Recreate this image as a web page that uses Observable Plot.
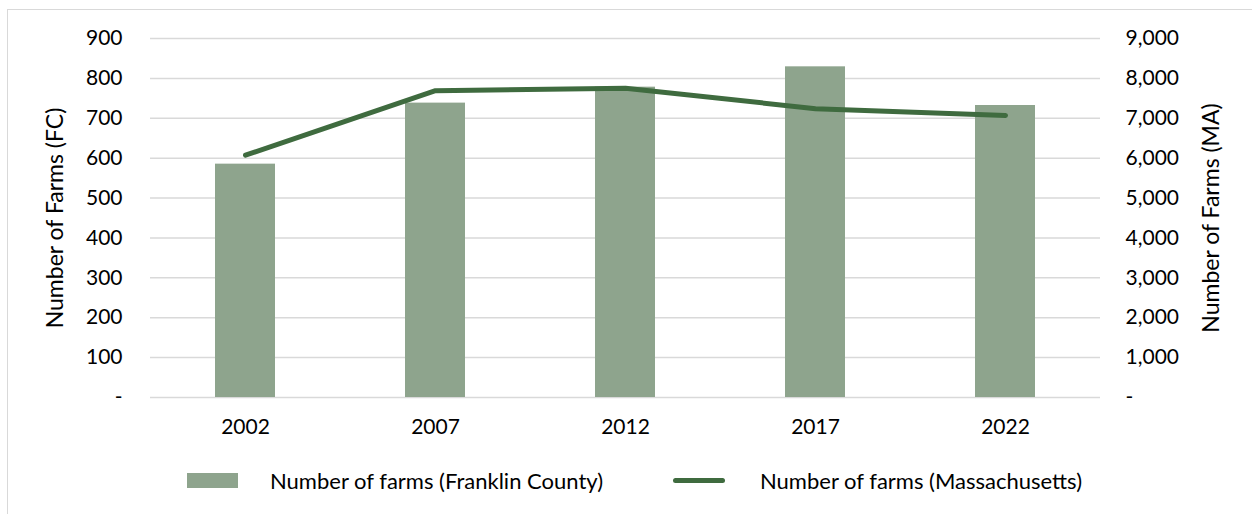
<!DOCTYPE html>
<html>
<head>
<meta charset="utf-8">
<script src="https://cdn.jsdelivr.net/npm/d3@7"></script>
<script src="https://cdn.jsdelivr.net/npm/@observablehq/plot@0.6"></script>
<style>
  html, body { margin: 0; padding: 0; background: #fff; }
  #wrap { position: relative; width: 1252px; height: 514px; overflow: hidden; font-family: Lato, sans-serif; }
  #frame { position: absolute; left: 7px; top: 9px; width: 1400px; height: 700px; border: 1.5px solid #d9d9d9; box-sizing: border-box; }
  #chart { position: absolute; left: 0; top: 0; }
  .lg { position: absolute; font-size: 22px; color: #000; white-space: nowrap; line-height: 1; }
  .sw-bar { position: absolute; background: #8ea48d; }
  .sw-line { position: absolute; background: #3f6b3f; border-radius: 3px; }
</style>
</head>
<body>
<div id="wrap">
  <div id="frame"></div>
  <div id="chart"></div>
  <div id="legend"></div>
</div>
<script>
// ---- data ----
const years = ["2002", "2007", "2012", "2017", "2022"];
const franklinFarms = [585, 738, 778, 829, 732];
const massFarms = [6075, 7691, 7755, 7241, 7071];
const leftTicks = [0, 100, 200, 300, 400, 500, 600, 700, 800, 900];
const rightTicks = [0, 1000, 2000, 3000, 4000, 5000, 6000, 7000, 8000, 9000];
const seriesNames = ["Number of farms (Franklin County)", "Number of farms (Massachusetts)"];
const leftTitle = "Number of Farms (FC)";
const rightTitle = "Number of Farms (MA)";

const ratio = rightTicks[rightTicks.length - 1] / leftTicks[leftTicks.length - 1];
const rows = years.map((y, i) => ({year: y, fc: franklinFarms[i], ma: massFarms[i]}));
const fmt = d3.format(",");

const barColor = "#8ea48d";
const lineColor = "#3f6b3f";
const gridColor = "#d9d9d9";

const chart = Plot.plot({
  width: 1252,
  height: 460,
  marginLeft: 150,
  marginRight: 152,
  marginTop: 38,
  marginBottom: 63,
  style: {fontFamily: "Lato, sans-serif", fontSize: "21px", color: "#000", background: "transparent", overflow: "visible"},
  x: {domain: years, paddingInner: 0.684, paddingOuter: 0.342},
  y: {domain: [0, 900]},
  marks: [
    Plot.gridY(leftTicks, {stroke: gridColor, strokeOpacity: 1, strokeWidth: 1.5}),
    Plot.barY(rows, {x: "year", y: "fc", fill: barColor}),
    Plot.lineY(rows, {x: "year", y: d => d.ma / ratio, stroke: lineColor, strokeWidth: 5, strokeLinecap: "round", strokeLinejoin: "round"}),
    Plot.axisY(leftTicks, {
      anchor: "left", tickSize: 0, tickPadding: 28, fontSize: 21,
      tickFormat: d => d === 0 ? "-" : fmt(d),
      label: null
    }),
    Plot.axisY([], {
      anchor: "left", tickSize: 0, fontSize: 23,
      label: leftTitle, labelAnchor: "center", labelArrow: "none", labelOffset: 104
    }),
    Plot.axisY(leftTicks, {
      anchor: "right", tickSize: 0, tickPadding: 25, fontSize: 21,
      tickFormat: d => d === 0 ? "-" : fmt(d * ratio),
      label: null
    }),
    Plot.axisY([], {
      anchor: "right", tickSize: 0, fontSize: 23,
      label: rightTitle, labelAnchor: "center", labelArrow: "none", labelOffset: 118
    }),
    Plot.axisX({tickSize: 0, tickPadding: 22, fontSize: 21, label: null})
  ]
});
document.getElementById("chart").appendChild(chart);

// ---- legend ----
const legend = document.getElementById("legend");
legend.innerHTML = `
  <div class="sw-bar" style="left:187px; top:473px; width:51px; height:15px;"></div>
  <div class="lg" style="left:270px; top:470px;">${seriesNames[0]}</div>
  <div class="sw-line" style="left:673px; top:478px; width:52px; height:5px;"></div>
  <div class="lg" style="left:760px; top:470px;">${seriesNames[1]}</div>
`;
</script>
</body>
</html>
